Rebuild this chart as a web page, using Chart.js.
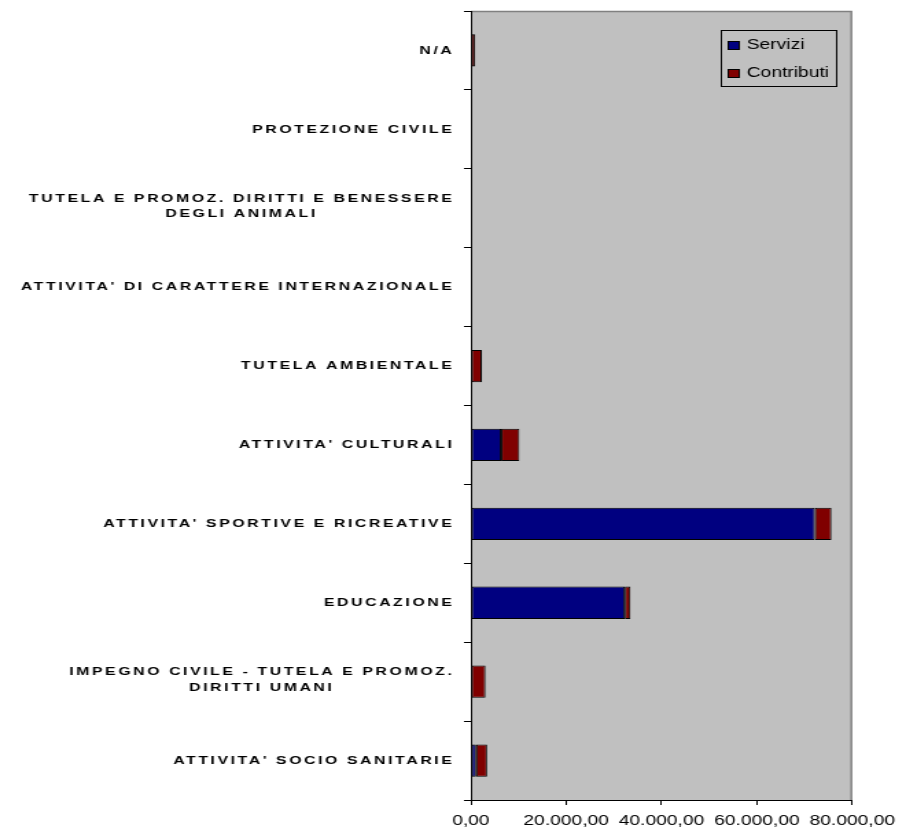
<!DOCTYPE html>
<html><head><meta charset="utf-8">
<script src="https://cdn.jsdelivr.net/npm/chart.js@4/dist/chart.umd.min.js"></script>
<style>html,body{margin:0;padding:0;background:#fff;} canvas{display:block;}</style>
</head><body>
<canvas id="c" width="660" height="832" style="width:906px;height:832px"></canvas>
<script>
const categories = [
  'N/A',
  'PROTEZIONE CIVILE',
  ['TUTELA E PROMOZ. DIRITTI E BENESSERE', 'DEGLI ANIMALI'],
  "ATTIVITA' DI CARATTERE INTERNAZIONALE",
  'TUTELA AMBIENTALE',
  "ATTIVITA' CULTURALI",
  "ATTIVITA' SPORTIVE E RICREATIVE",
  'EDUCAZIONE',
  ['IMPEGNO CIVILE - TUTELA E PROMOZ.', 'DIRITTI UMANI'],
  "ATTIVITA' SOCIO SANITARIE"
];
const servizi    = [0, 0, 0, 0, 0, 6350, 72150, 32300, 0, 1090];
const contributi = [900, 0, 0, 0, 2300, 3830, 3480, 1160, 3070, 2320];
const xTickLabels = ['0,00', '20.000,00', '40.000,00', '60.000,00', '80.000,00'];
const seriesNames = ['Servizi', 'Contributi'];

const FONT = '"Liberation Sans", Arial, sans-serif';

const plotBg = {
  id: 'plotBg',
  beforeDraw(chart) {
    const {ctx, chartArea: {left, top, right, bottom}} = chart;
    ctx.save();
    ctx.fillStyle = '#c0c0c0';
    ctx.fillRect(left, top, right - left, bottom - top);
    ctx.strokeStyle = '#808080';
    ctx.lineWidth = 1.4;
    ctx.beginPath();
    ctx.moveTo(left, top + 0.5);
    ctx.lineTo(right - 0.7, top + 0.5);
    ctx.lineTo(right - 0.7, bottom);
    ctx.stroke();
    ctx.restore();
  }
};

const yLabels = {
  id: 'yLabels',
  afterDraw(chart) {
    const {ctx} = chart;
    const ys = chart.scales.y;
    const xRight = 331;
    ctx.save();
    ctx.font = 'bold 11.5px ' + FONT;
    ctx.letterSpacing = '1.9px';
    ctx.fillStyle = '#000';
    ctx.textBaseline = 'middle';
    ctx.textAlign = 'center';
    categories.forEach((lab, i) => {
      const lines = Array.isArray(lab) ? lab : [lab];
      const w = Math.max(...lines.map(l => ctx.measureText(l).width));
      const cx = xRight - w / 2;
      const yc = ys.getPixelForValue(i);
      const lh = 15.5;
      lines.forEach((l, j) => {
        const off = lines.length > 1 ? -2 : 0;
        ctx.fillText(l, cx, yc + (j - (lines.length - 1) / 2) * lh + off);
      });
    });
    ctx.restore();
  }
};

const boxLegend = {
  id: 'boxLegend',
  afterDraw(chart) {
    const {ctx} = chart;
    const ds = chart.data.datasets;
    ctx.save();
    ctx.strokeStyle = '#000';
    ctx.lineWidth = 1;
    ctx.strokeRect(525.5, 30.5, 84, 56);
    ctx.font = '14px ' + FONT;
    ctx.textBaseline = 'middle';
    ctx.textAlign = 'left';
    ds.forEach((d, i) => {
      const y = 41 + i * 28;
      ctx.fillStyle = d.backgroundColor;
      ctx.fillRect(530, y, 9, 9);
      ctx.strokeRect(530.5, y + 0.5, 8, 8);
      ctx.fillStyle = '#000';
      ctx.fillText(d.label, 544, y + 4.5);
    });
    ctx.restore();
  }
};

new Chart(document.getElementById('c'), {
  type: 'bar',
  data: {
    labels: categories,
    datasets: [
      {label: seriesNames[0], data: servizi, backgroundColor: '#000080', borderColor: '#000', borderWidth: 1, borderSkipped: false, barPercentage: 0.41, categoryPercentage: 1},
      {label: seriesNames[1], data: contributi, backgroundColor: '#800000', borderColor: '#000', borderWidth: 1, borderSkipped: false, barPercentage: 0.41, categoryPercentage: 1}
    ]
  },
  options: {
    indexAxis: 'y',
    responsive: false,
    animation: false,
    devicePixelRatio: 1,
    layout: {padding: {top: 11, right: 33, left: 0, bottom: 0}},
    plugins: {legend: {display: false}, tooltip: {enabled: false}},
    scales: {
      x: {
        stacked: true, min: 0, max: 80000,
        ticks: {
          stepSize: 20000, autoSkip: false, maxRotation: 0, padding: 8,
          color: '#000', font: {family: FONT, size: 14},
          callback: (v) => xTickLabels[Math.round(v / 20000)]
        },
        grid: {drawOnChartArea: false, tickLength: 5, color: '#000'},
        border: {color: '#000', width: 1},
        afterFit(s) { s.height = 32; }
      },
      y: {
        stacked: true,
        ticks: {display: false},
        grid: {offset: true, drawOnChartArea: false, tickLength: 5, color: '#000'},
        border: {color: '#000', width: 1},
        afterFit(s) { s.width = 343; }
      }
    }
  },
  plugins: [plotBg, yLabels, boxLegend]
});
</script>
</body></html>
